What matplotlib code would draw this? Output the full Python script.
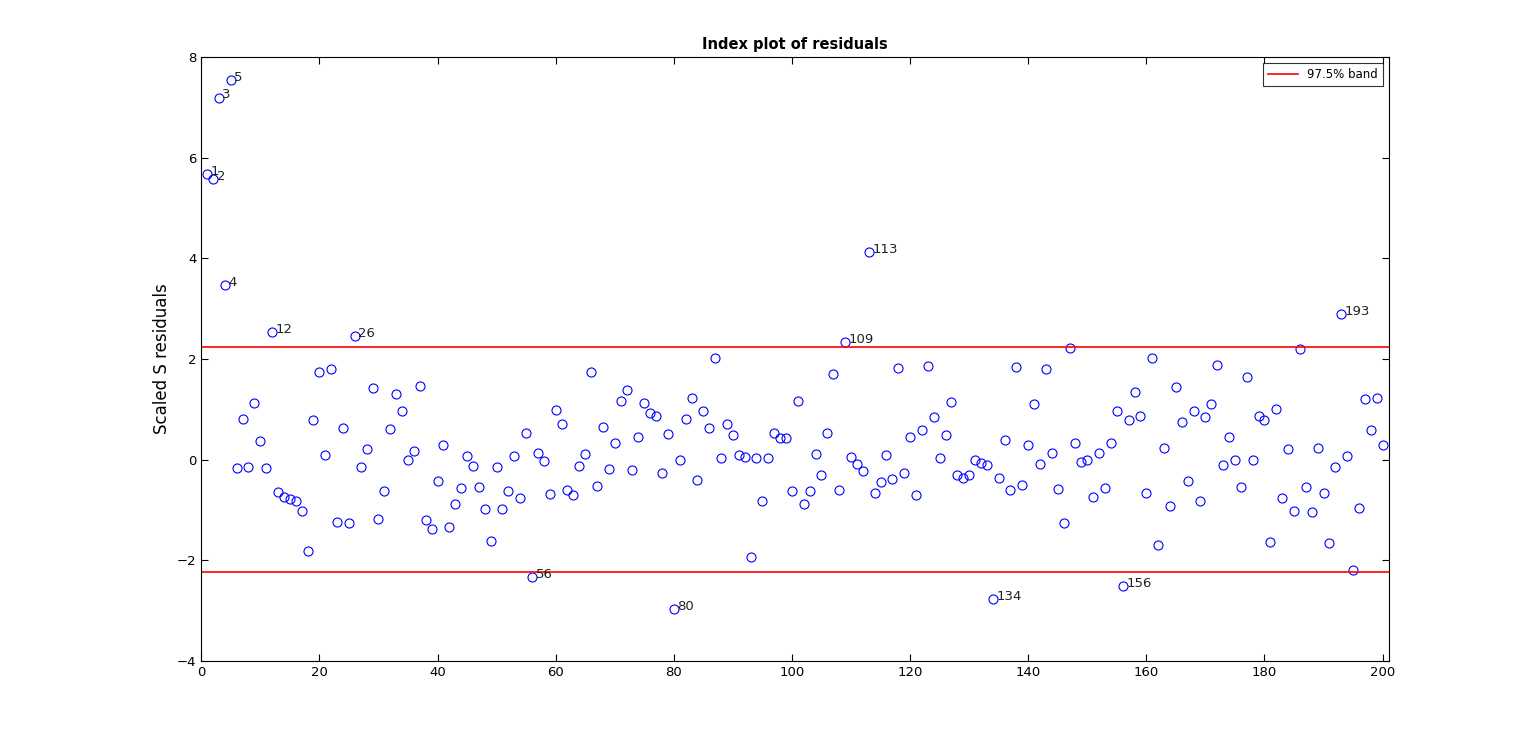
import matplotlib
matplotlib.use("Agg")
import matplotlib.pyplot as plt
import numpy as np

residuals = [5.68,5.58,7.2,3.48,7.55,-0.17,0.81,-0.14,1.12,0.37,
-0.17,2.53,-0.64,-0.75,-0.78,-0.82,-1.02,-1.81,0.79,1.74,
0.09,1.81,-1.25,0.62,-1.27,2.45,-0.14,0.21,1.42,-1.18,
-0.62,0.61,1.3,0.96,0.0,0.17,1.46,-1.2,-1.38,-0.42,
0.28,-1.34,-0.89,-0.57,0.07,-0.13,-0.54,-0.98,-1.62,-0.15,
-0.99,-0.62,0.07,-0.76,0.53,-2.33,0.14,-0.02,-0.68,0.98,
0.7,-0.6,-0.71,-0.12,0.12,1.75,-0.52,0.65,-0.18,0.33,
1.17,1.38,-0.2,0.45,1.13,0.93,0.87,-0.26,0.51,-2.97,
0.0,0.81,1.22,-0.4,0.96,0.63,2.01,0.04,0.7,0.49,
0.09,0.06,-1.93,0.03,-0.82,0.03,0.53,0.43,0.43,-0.62,
1.16,-0.89,-0.62,0.11,-0.3,0.52,1.7,-0.6,2.34,0.05,
-0.08,-0.22,4.13,-0.66,-0.44,0.09,-0.39,1.82,-0.26,0.45,
-0.7,0.58,1.86,0.84,0.03,0.49,1.14,-0.3,-0.36,-0.3,
0.0,-0.06,-0.1,-2.77,-0.36,0.39,-0.6,1.84,-0.5,0.28,
1.1,-0.08,1.8,0.14,-0.58,-1.27,2.21,0.33,-0.04,0.0,
-0.75,0.13,-0.57,0.32,0.97,-2.52,0.79,1.34,0.86,-0.67,
2.01,-1.69,0.23,-0.92,1.44,0.75,-0.42,0.96,-0.82,0.84,
1.1,1.89,-0.11,0.45,0.0,-0.55,1.65,0.0,0.86,0.79,
-1.63,1.0,-0.76,0.21,-1.02,2.19,-0.54,-1.05,0.23,-0.67,
-1.65,-0.14,2.89,0.07,-2.2,-0.96,1.2,0.58,1.22,0.28]
band = 2.24
index = np.arange(1, len(residuals) + 1)

fig = plt.figure(figsize=(15.36, 7.44), dpi=100)
ax = fig.add_axes([0.131, 0.112, 0.773, 0.811])
ax.plot(index, residuals, 'o', mfc='none', mec='blue', ms=6.5, mew=0.8, ls='none')
ax.axhline(band, color='red', lw=1.2, label='97.5% band')
ax.axhline(-band, color='red', lw=1.2)
r = np.array(residuals)
for i, v in zip(index, r):
    if abs(v) > band:
        ax.text(i + 0.6, v + 0.05, str(i), fontsize=9.5, color='#222222', va='center', ha='left')
ax.set_xlim(0, 201)
ax.set_ylim(-4, 8)
ax.set_xticks(np.arange(0, 201, 20))
ax.set_yticks(np.arange(-4, 9, 2))
ax.tick_params(direction='in', top=True, right=True, labelsize=9.5, length=5)
ax.set_ylabel('Scaled S residuals', fontsize=12)
ax.set_title('Index plot of residuals', fontsize=10.5, fontweight='bold')
leg = ax.legend(loc='upper right', fontsize=8.5, fancybox=False, edgecolor='black', handlelength=2.5)
leg.get_frame().set_linewidth(0.8)
fig.savefig('out.png', dpi=100)
